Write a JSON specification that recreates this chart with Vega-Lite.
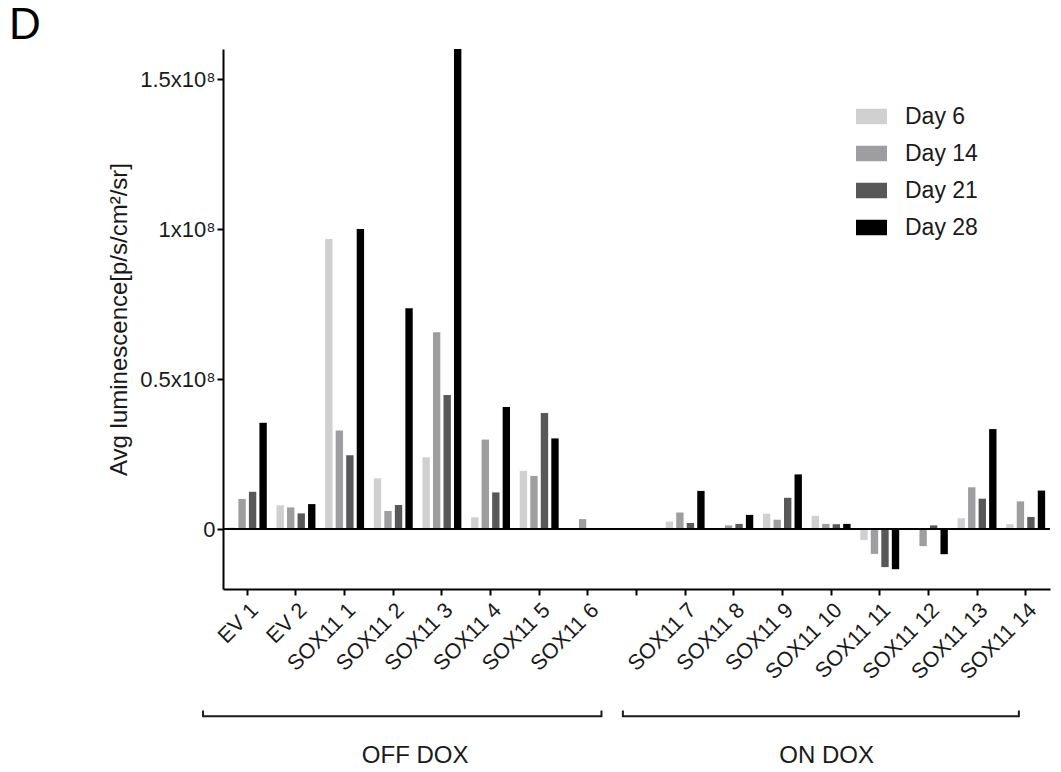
{
  "$schema": "https://vega.github.io/schema/vega-lite/v6.json",
  "width": 827,
  "height": 540,
  "autosize": {"type": "none"},
  "padding": {"left": 223, "top": 49, "right": 11, "bottom": 183},
  "background": "white",
  "title": {
    "text": "D",
    "anchor": "start",
    "frame": "group",
    "font": "Liberation Sans",
    "fontSize": 44,
    "fontWeight": "normal",
    "color": "black",
    "baseline": "alphabetic",
    "offset": 9,
    "dx": -214,
    "dy": 43
  },
  "config": {
    "view": {"stroke": null},
    "font": "Liberation Sans",
    "axis": {"grid": false}
  },
  "datasets": {
    "bars": [
      {"sample": "EV 1", "day": "Day 6", "value": 500000},
      {"sample": "EV 1", "day": "Day 14", "value": 10000000},
      {"sample": "EV 1", "day": "Day 21", "value": 12400000},
      {"sample": "EV 1", "day": "Day 28", "value": 35400000},
      {"sample": "EV 2", "day": "Day 6", "value": 7900000},
      {"sample": "EV 2", "day": "Day 14", "value": 7200000},
      {"sample": "EV 2", "day": "Day 21", "value": 5200000},
      {"sample": "EV 2", "day": "Day 28", "value": 8300000},
      {"sample": "SOX11 1", "day": "Day 6", "value": 96700000},
      {"sample": "SOX11 1", "day": "Day 14", "value": 32800000},
      {"sample": "SOX11 1", "day": "Day 21", "value": 24600000},
      {"sample": "SOX11 1", "day": "Day 28", "value": 100000000},
      {"sample": "SOX11 2", "day": "Day 6", "value": 16900000},
      {"sample": "SOX11 2", "day": "Day 14", "value": 6000000},
      {"sample": "SOX11 2", "day": "Day 21", "value": 8000000},
      {"sample": "SOX11 2", "day": "Day 28", "value": 73600000},
      {"sample": "SOX11 3", "day": "Day 6", "value": 23900000},
      {"sample": "SOX11 3", "day": "Day 14", "value": 65600000},
      {"sample": "SOX11 3", "day": "Day 21", "value": 44700000},
      {"sample": "SOX11 3", "day": "Day 28", "value": 160000000},
      {"sample": "SOX11 4", "day": "Day 6", "value": 3900000},
      {"sample": "SOX11 4", "day": "Day 14", "value": 29800000},
      {"sample": "SOX11 4", "day": "Day 21", "value": 12200000},
      {"sample": "SOX11 4", "day": "Day 28", "value": 40700000},
      {"sample": "SOX11 5", "day": "Day 6", "value": 19400000},
      {"sample": "SOX11 5", "day": "Day 14", "value": 17700000},
      {"sample": "SOX11 5", "day": "Day 21", "value": 38700000},
      {"sample": "SOX11 5", "day": "Day 28", "value": 30200000},
      {"sample": "SOX11 6", "day": "Day 6", "value": 0},
      {"sample": "SOX11 6", "day": "Day 14", "value": 3300000},
      {"sample": "SOX11 6", "day": "Day 21", "value": 0},
      {"sample": "SOX11 6", "day": "Day 28", "value": 0},
      {"sample": "SOX11 7", "day": "Day 6", "value": 2500000},
      {"sample": "SOX11 7", "day": "Day 14", "value": 5500000},
      {"sample": "SOX11 7", "day": "Day 21", "value": 2000000},
      {"sample": "SOX11 7", "day": "Day 28", "value": 12700000},
      {"sample": "SOX11 8", "day": "Day 6", "value": 0},
      {"sample": "SOX11 8", "day": "Day 14", "value": 1200000},
      {"sample": "SOX11 8", "day": "Day 21", "value": 1700000},
      {"sample": "SOX11 8", "day": "Day 28", "value": 4700000},
      {"sample": "SOX11 9", "day": "Day 6", "value": 5100000},
      {"sample": "SOX11 9", "day": "Day 14", "value": 3100000},
      {"sample": "SOX11 9", "day": "Day 21", "value": 10400000},
      {"sample": "SOX11 9", "day": "Day 28", "value": 18200000},
      {"sample": "SOX11 10", "day": "Day 6", "value": 4400000},
      {"sample": "SOX11 10", "day": "Day 14", "value": 1700000},
      {"sample": "SOX11 10", "day": "Day 21", "value": 1600000},
      {"sample": "SOX11 10", "day": "Day 28", "value": 1700000},
      {"sample": "SOX11 11", "day": "Day 6", "value": -3700000},
      {"sample": "SOX11 11", "day": "Day 14", "value": -8300000},
      {"sample": "SOX11 11", "day": "Day 21", "value": -12700000},
      {"sample": "SOX11 11", "day": "Day 28", "value": -13400000},
      {"sample": "SOX11 12", "day": "Day 6", "value": 0},
      {"sample": "SOX11 12", "day": "Day 14", "value": -5700000},
      {"sample": "SOX11 12", "day": "Day 21", "value": 1200000},
      {"sample": "SOX11 12", "day": "Day 28", "value": -8400000},
      {"sample": "SOX11 13", "day": "Day 6", "value": 3600000},
      {"sample": "SOX11 13", "day": "Day 14", "value": 13900000},
      {"sample": "SOX11 13", "day": "Day 21", "value": 10100000},
      {"sample": "SOX11 13", "day": "Day 28", "value": 33300000},
      {"sample": "SOX11 14", "day": "Day 6", "value": 1600000},
      {"sample": "SOX11 14", "day": "Day 14", "value": 9200000},
      {"sample": "SOX11 14", "day": "Day 21", "value": 4000000},
      {"sample": "SOX11 14", "day": "Day 28", "value": 12800000}
    ],
    "groups": [
      {"label": "OFF DOX", "start": -0.41, "end": 7.78, "mid": 3.95},
      {"label": "ON DOX", "start": 8.22, "end": 16.36, "mid": 12.41}
    ]
  },
  "layer": [
    {
      "data": {"name": "bars"},
      "mark": {"type": "bar"},
      "encoding": {
        "x": {
          "field": "sample",
          "type": "nominal",
          "sort": null,
          "scale": {
            "domain": ["EV 1", "EV 2", "SOX11 1", "SOX11 2", "SOX11 3", "SOX11 4", "SOX11 5", "SOX11 6", " ", "SOX11 7", "SOX11 8", "SOX11 9", "SOX11 10", "SOX11 11", "SOX11 12", "SOX11 13", "SOX11 14"],
            "paddingInner": 0.2,
            "paddingOuter": 0.1
          },
          "axis": {
            "title": null,
            "labelAngle": -45,
            "labelFont": "Liberation Sans",
            "labelFontSize": 21.5,
            "labelColor": "#1a1a1a",
            "labelPadding": 4,
            "domainColor": "black",
            "domainWidth": 2,
            "tickColor": "black",
            "tickWidth": 2,
            "tickSize": 6
          }
        },
        "xOffset": {
          "field": "day",
          "type": "nominal",
          "sort": ["Day 6", "Day 14", "Day 21", "Day 28"],
          "scale": {"paddingInner": 0.3, "paddingOuter": 0}
        },
        "y": {
          "field": "value",
          "type": "quantitative",
          "scale": {"domain": [-20000000, 160000000], "nice": false, "zero": true},
          "axis": {
            "title": "Avg luminescence[p/s/cm²/sr]",
            "titleFont": "Liberation Sans",
            "titleFontSize": 24,
            "titleFontWeight": "normal",
            "titleColor": "#1a1a1a",
            "titlePadding": 8,
            "values": [0, 50000000, 100000000, 150000000],
            "labelExpr": "datum.value === 0 ? '0' : format(datum.value / 100000000, '') + 'x10⁸'",
            "labelFont": "Liberation Sans",
            "labelFontSize": 22,
            "labelColor": "#1a1a1a",
            "labelPadding": 2,
            "domainColor": "black",
            "domainWidth": 2,
            "tickColor": "black",
            "tickWidth": 2,
            "tickSize": 6
          }
        },
        "color": {
          "field": "day",
          "type": "nominal",
          "sort": ["Day 6", "Day 14", "Day 21", "Day 28"],
          "scale": {
            "domain": ["Day 6", "Day 14", "Day 21", "Day 28"],
            "range": ["#d0d0d0", "#9e9ea0", "#585858", "#000000"]
          },
          "legend": {
            "title": null,
            "orient": "none",
            "legendX": 633,
            "legendY": 52,
            "padding": 0,
            "symbolType": "M-1,-0.5H1V0.5H-1Z",
            "symbolSize": 961,
            "symbolStrokeWidth": 0,
            "symbolOpacity": 1,
            "labelFont": "Liberation Sans",
            "labelFontSize": 23,
            "labelColor": "#1a1a1a",
            "labelOffset": 18,
            "rowPadding": 9
          }
        }
      }
    },
    {
      "data": {"values": [{}]},
      "mark": {"type": "rule", "color": "black", "strokeWidth": 2},
      "encoding": {
        "y": {"datum": 0, "type": "quantitative"}
      }
    },
    {
      "data": {"name": "groups"},
      "layer": [
        {
          "mark": {"type": "rule", "color": "#1a1a1a", "strokeWidth": 2, "clip": false},
          "encoding": {
            "x": {"field": "start", "type": "quantitative", "scale": {"domain": [0, 17], "nice": false, "zero": false}, "axis": null},
            "x2": {"field": "end"},
            "y": {"datum": -62400000, "type": "quantitative"}
          }
        },
        {
          "mark": {"type": "rule", "color": "#1a1a1a", "strokeWidth": 2, "clip": false},
          "encoding": {
            "x": {"field": "start", "type": "quantitative", "axis": null},
            "y": {"datum": -60500000, "type": "quantitative"},
            "y2": {"datum": -62700000}
          }
        },
        {
          "mark": {"type": "rule", "color": "#1a1a1a", "strokeWidth": 2, "clip": false},
          "encoding": {
            "x": {"field": "end", "type": "quantitative", "axis": null},
            "y": {"datum": -60500000, "type": "quantitative"},
            "y2": {"datum": -62700000}
          }
        },
        {
          "mark": {"type": "text", "font": "Liberation Sans", "fontSize": 24, "color": "#1a1a1a", "align": "center", "baseline": "alphabetic", "clip": false},
          "encoding": {
            "x": {"field": "mid", "type": "quantitative", "axis": null},
            "y": {"datum": -78000000, "type": "quantitative"},
            "text": {"field": "label"}
          }
        }
      ]
    }
  ],
  "resolve": {"scale": {"x": "independent"}}
}
